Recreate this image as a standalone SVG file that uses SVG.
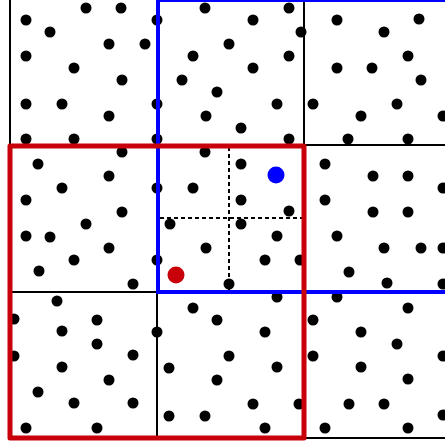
<svg xmlns="http://www.w3.org/2000/svg" width="445" height="445" viewBox="0 0 445 445">
<style>
.grid{stroke:#000;stroke-width:2;fill:none}
.dash{stroke:#000;stroke-width:2;stroke-dasharray:4 3;fill:none}
.d{fill:#000}
.blue{stroke:#0000ff;stroke-width:4;fill:none}
.red{stroke:#c8000a;stroke-width:5;fill:none;stroke-linejoin:round}
</style>
<rect width="445" height="445" fill="#fff"/>
<g id="grid">
<line class="grid" x1="10" y1="0" x2="10" y2="438"/>
<line class="grid" x1="157" y1="0" x2="157" y2="438"/>
<line class="grid" x1="304" y1="0" x2="304" y2="438"/>
<line class="grid" x1="10" y1="145" x2="445" y2="145"/>
<line class="grid" x1="10" y1="292" x2="445" y2="292"/>
<line class="grid" x1="10" y1="438" x2="445" y2="438"/>
</g>
<g id="subdivision">
<line class="dash" x1="229" y1="147" x2="229" y2="292"/>
<line class="dash" x1="160" y1="218" x2="302" y2="218"/>
</g>
<g id="dots" class="d">
<circle cx="86" cy="8" r="5.5"/><circle cx="121" cy="8" r="5.5"/><circle cx="26" cy="20" r="5.5"/><circle cx="50" cy="32" r="5.5"/><circle cx="109" cy="44" r="5.5"/><circle cx="145" cy="44" r="5.5"/><circle cx="26" cy="56" r="5.5"/><circle cx="74" cy="68" r="5.5"/><circle cx="122" cy="80" r="5.5"/><circle cx="26" cy="104" r="5.5"/><circle cx="62" cy="104" r="5.5"/><circle cx="109" cy="116" r="5.5"/><circle cx="26" cy="139" r="5.5"/><circle cx="74" cy="139" r="5.5"/>
<circle cx="205" cy="8" r="5.5"/><circle cx="289" cy="8" r="5.5"/><circle cx="157" cy="20" r="5.5"/><circle cx="253" cy="20" r="5.5"/><circle cx="301" cy="32" r="5.5"/><circle cx="229" cy="44" r="5.5"/><circle cx="193" cy="56" r="5.5"/><circle cx="289" cy="56" r="5.5"/><circle cx="253" cy="68" r="5.5"/><circle cx="182" cy="80" r="5.5"/><circle cx="217" cy="92" r="5.5"/><circle cx="157" cy="104" r="5.5"/><circle cx="277" cy="104" r="5.5"/><circle cx="206" cy="116" r="5.5"/><circle cx="241" cy="128" r="5.5"/><circle cx="157" cy="139" r="5.5"/><circle cx="289" cy="139" r="5.5"/>
<circle cx="337" cy="20" r="5.5"/><circle cx="419" cy="19" r="5.5"/><circle cx="384" cy="32" r="5.5"/><circle cx="408" cy="56" r="5.5"/><circle cx="337" cy="68" r="5.5"/><circle cx="372" cy="68" r="5.5"/><circle cx="421" cy="80" r="5.5"/><circle cx="313" cy="104" r="5.5"/><circle cx="397" cy="104" r="5.5"/><circle cx="361" cy="116" r="5.5"/><circle cx="443" cy="116" r="5.5"/><circle cx="348" cy="139" r="5.5"/><circle cx="408" cy="139" r="5.5"/>
<circle cx="122" cy="152" r="5.5"/><circle cx="38" cy="164" r="5.5"/><circle cx="109" cy="176" r="5.5"/><circle cx="62" cy="188" r="5.5"/><circle cx="26" cy="200" r="5.5"/><circle cx="122" cy="212" r="5.5"/><circle cx="86" cy="224" r="5.5"/><circle cx="26" cy="236" r="5.5"/><circle cx="50" cy="237" r="5.5"/><circle cx="109" cy="248" r="5.5"/><circle cx="74" cy="260" r="5.5"/><circle cx="39" cy="271" r="5.5"/><circle cx="133" cy="284" r="5.5"/>
<circle cx="205" cy="152" r="5.5"/><circle cx="241" cy="164" r="5.5"/><circle cx="157" cy="188" r="5.5"/><circle cx="193" cy="188" r="5.5"/><circle cx="241" cy="200" r="5.5"/><circle cx="289" cy="211" r="5.5"/><circle cx="170" cy="224" r="5.5"/><circle cx="241" cy="224" r="5.5"/><circle cx="277" cy="236" r="5.5"/><circle cx="206" cy="248" r="5.5"/><circle cx="157" cy="260" r="5.5"/><circle cx="265" cy="260" r="5.5"/><circle cx="300" cy="260" r="5.5"/><circle cx="229" cy="284" r="5.5"/>
<circle cx="325" cy="164" r="5.5"/><circle cx="373" cy="176" r="5.5"/><circle cx="408" cy="176" r="5.5"/><circle cx="443" cy="188" r="5.5"/><circle cx="325" cy="200" r="5.5"/><circle cx="373" cy="212" r="5.5"/><circle cx="408" cy="212" r="5.5"/><circle cx="337" cy="236" r="5.5"/><circle cx="384" cy="248" r="5.5"/><circle cx="421" cy="248" r="5.5"/><circle cx="443" cy="248" r="5.5"/><circle cx="349" cy="272" r="5.5"/><circle cx="387" cy="283" r="5.5"/><circle cx="443" cy="284" r="5.5"/>
<circle cx="57" cy="301" r="5.5"/><circle cx="14" cy="319" r="5.5"/><circle cx="97" cy="320" r="5.5"/><circle cx="62" cy="331" r="5.5"/><circle cx="97" cy="344" r="5.5"/><circle cx="14" cy="356" r="5.5"/><circle cx="133" cy="355" r="5.5"/><circle cx="62" cy="367" r="5.5"/><circle cx="109" cy="380" r="5.5"/><circle cx="38" cy="392" r="5.5"/><circle cx="74" cy="403" r="5.5"/><circle cx="133" cy="403" r="5.5"/><circle cx="26" cy="428" r="5.5"/><circle cx="97" cy="428" r="5.5"/>
<circle cx="277" cy="297" r="5.5"/><circle cx="193" cy="308" r="5.5"/><circle cx="217" cy="320" r="5.5"/><circle cx="157" cy="332" r="5.5"/><circle cx="265" cy="332" r="5.5"/><circle cx="229" cy="356" r="5.5"/><circle cx="169" cy="368" r="5.5"/><circle cx="277" cy="367" r="5.5"/><circle cx="217" cy="380" r="5.5"/><circle cx="253" cy="404" r="5.5"/><circle cx="299" cy="404" r="5.5"/><circle cx="169" cy="416" r="5.5"/><circle cx="205" cy="416" r="5.5"/><circle cx="265" cy="428" r="5.5"/>
<circle cx="337" cy="297" r="5.5"/><circle cx="408" cy="308" r="5.5"/><circle cx="313" cy="320" r="5.5"/><circle cx="361" cy="332" r="5.5"/><circle cx="397" cy="344" r="5.5"/><circle cx="313" cy="356" r="5.5"/><circle cx="443" cy="356" r="5.5"/><circle cx="361" cy="367" r="5.5"/><circle cx="408" cy="379" r="5.5"/><circle cx="349" cy="404" r="5.5"/><circle cx="384" cy="404" r="5.5"/><circle cx="443" cy="415" r="5.5"/><circle cx="325" cy="428" r="5.5"/><circle cx="408" cy="428" r="5.5"/>
</g>
<g id="blue-box"><rect class="blue" x="158" y="0" width="300" height="292"/></g>
<g id="red-box"><rect class="red" x="10" y="146" width="294" height="292"/></g>
<g id="highlight">
<circle cx="276" cy="175" r="8.5" fill="#0000ff"/>
<circle cx="176" cy="275" r="8.5" fill="#c8000a"/>
</g>
</svg>
